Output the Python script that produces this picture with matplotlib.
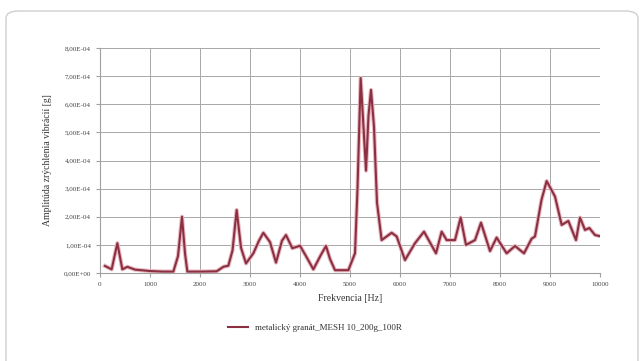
"""Vibration acceleration amplitude spectrum, Excel-style line chart."""

import matplotlib
matplotlib.use("Agg")
import matplotlib.pyplot as plt
from matplotlib.patches import FancyBboxPatch
from matplotlib.ticker import FuncFormatter, MultipleLocator

freq_hz = [
    100, 233, 347, 447, 547, 700, 1000, 1250, 1467, 1560, 1640, 1700, 1747,
    2000, 2333, 2467, 2567, 2650, 2733, 2820, 2920, 3067, 3180, 3267, 3400,
    3520, 3640, 3720, 3847, 4000, 4120, 4267, 4420, 4520, 4600, 4700, 4967,
    5100, 5150, 5213, 5270, 5320, 5370, 5420, 5480, 5540, 5633, 5833, 5933,
    6100, 6300, 6480, 6720, 6833, 6933, 7100, 7213, 7320, 7500, 7620, 7800,
    7933, 8133, 8300, 8480, 8633, 8700, 8830, 8933, 9100, 9233, 9367, 9520,
    9600, 9700, 9787, 9900, 10000,
]
amplitude_g = [
    0.25e-4, 0.13e-4, 1.06e-4, 0.13e-4, 0.22e-4, 0.12e-4, 0.07e-4, 0.05e-4,
    0.05e-4, 0.6e-4, 2.0e-4, 0.7e-4, 0.05e-4, 0.05e-4, 0.06e-4, 0.22e-4,
    0.26e-4, 0.8e-4, 2.24e-4, 0.9e-4, 0.34e-4, 0.7e-4, 1.15e-4, 1.43e-4,
    1.1e-4, 0.37e-4, 1.15e-4, 1.35e-4, 0.88e-4, 0.97e-4, 0.6e-4, 0.13e-4,
    0.65e-4, 0.96e-4, 0.5e-4, 0.1e-4, 0.1e-4, 0.7e-4, 3.0e-4, 6.93e-4,
    5.2e-4, 3.64e-4, 5.6e-4, 6.51e-4, 5.2e-4, 2.5e-4, 1.17e-4, 1.43e-4,
    1.3e-4, 0.46e-4, 1.06e-4, 1.47e-4, 0.7e-4, 1.47e-4, 1.17e-4, 1.17e-4,
    1.97e-4, 1.0e-4, 1.17e-4, 1.79e-4, 0.78e-4, 1.26e-4, 0.7e-4, 0.96e-4,
    0.7e-4, 1.22e-4, 1.3e-4, 2.6e-4, 3.27e-4, 2.72e-4, 1.71e-4, 1.85e-4,
    1.17e-4, 1.97e-4, 1.53e-4, 1.6e-4, 1.35e-4, 1.31e-4,
]
series_name = "metalický granát_MESH 10_200g_100R"
x_label = "Frekvencia [Hz]"
y_label = "Amplitúda zrýchlenia vibrácií [g]"

plt.rcParams["font.family"] = ["Liberation Serif", "DejaVu Serif"]

fig = plt.figure(figsize=(6.41, 3.61), dpi=100)
fig.patches.append(
    FancyBboxPatch(
        (6 / 641, -0.05), 632 / 641, 350 / 361 + 0.05,
        boxstyle="round,pad=0,rounding_size=0.02",
        transform=fig.transFigure, facecolor="white", edgecolor="#cfcfcf",
        linewidth=1.0, zorder=-1,
    )
)

ax = fig.add_axes((100 / 641, 88 / 361, 500 / 641, 225 / 361))
ax.plot(freq_hz, amplitude_g, color="#e8b8c0", linewidth=3.0, solid_joinstyle="round")
ax.plot(freq_hz, amplitude_g, color="#8b3043", linewidth=1.5, solid_joinstyle="round",
        label=series_name)

ax.set_xlim(0, 10000)
ax.set_ylim(0, 8e-4)
ax.xaxis.set_major_locator(MultipleLocator(1000))
ax.yaxis.set_major_locator(MultipleLocator(1e-4))
ax.yaxis.set_major_formatter(FuncFormatter(lambda v, _: f"{v:.2E}".replace(".", ",")))
ax.grid(True, color="#a8a8a8", linewidth=0.7)
ax.set_axisbelow(True)
for side in ("top", "right"):
    ax.spines[side].set_visible(False)
for side in ("left", "bottom"):
    ax.spines[side].set_color("#a0a0a0")
ax.tick_params(labelsize=5, length=3, color="#a0a0a0", labelcolor="#444444")

ax.set_xlabel(x_label, fontsize=7, color="#333333", labelpad=5)
ax.set_ylabel(y_label, fontsize=7, color="#333333", labelpad=8)

fig.legend(
    loc="center", bbox_to_anchor=(315 / 641, 1 - 328 / 361), frameon=False,
    fontsize=6.5, handlelength=2.2, labelcolor="#333333",
)

fig.savefig("out.png", dpi=100)
